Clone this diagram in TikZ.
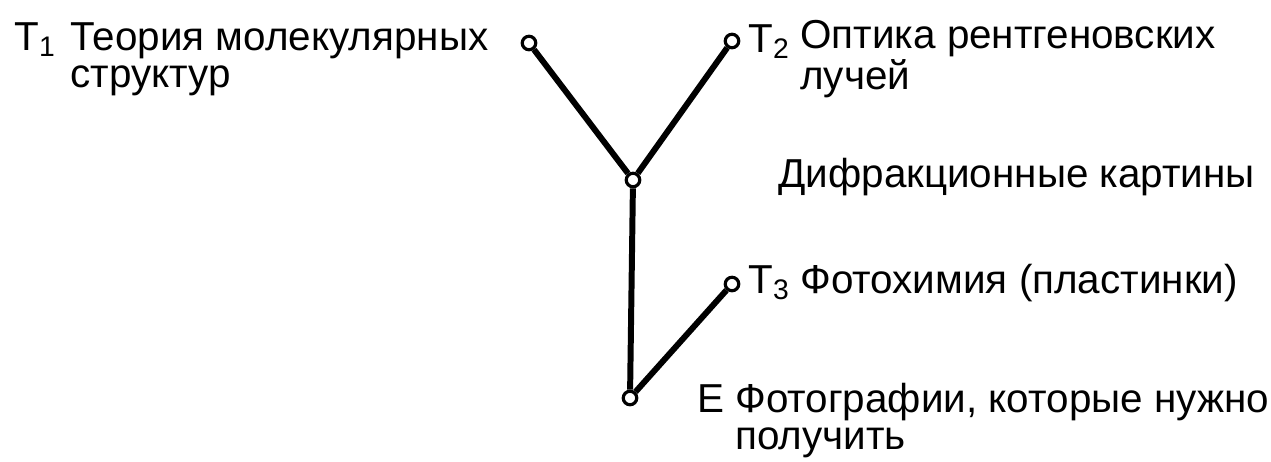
\documentclass[tikz,border=0pt]{standalone}
\usepackage{fontspec}
\setmainfont{Liberation Sans}
\usetikzlibrary{positioning}

\begin{document}
\begin{tikzpicture}[x=0.02cm,y=-0.02cm,
  pt/.style={circle,draw,line width=1.8pt,inner sep=0pt,minimum size=0.27cm},
  lbl/.style={font=\fontsize{23}{21}\selectfont,inner sep=0pt,anchor=base west,align=left},
  edge/.style={line width=3.4pt}]
\useasboundingbox (0,0) rectangle (1271,461);

% points of the tree
\node[pt] (t1) at (529,43) {};
\node[pt] (t2) at (732,41) {};
\node[pt] (y) at (633,180) {};
\node[pt] (t3) at (732,284) {};
\node[pt] (e) at (630,398) {};

\draw[edge] (t1) -- (y);
\draw[edge] (t2) -- (y);
\draw[edge] (y) -- (e);
\draw[edge] (t3) -- (e);

% labels (two-line ones sit on the baseline of their last line)
\node[lbl] (t1sym) at (14,50) {T\textsubscript{1}};
\node[lbl] (t1txt) at (70,87) {Теория молекулярных\\структур};

\node[lbl] (t2sym) at (748,52) {T\textsubscript{2}};
\node[lbl] (t2txt) at (800,89) {Оптика рентгеновских\\лучей};

\node[lbl] (ytxt) at (778,187) {Дифракционные картины};

\node[lbl] (t3sym) at (748,293) {T\textsubscript{3}};
\node[lbl] (t3txt) at (800,293) {Фотохимия (пластинки)};

\node[lbl] (esym) at (697,412) {E};
\node[lbl] (etxt) at (735,449) {Фотографии, которые нужно\\получить};
\end{tikzpicture}
\end{document}
